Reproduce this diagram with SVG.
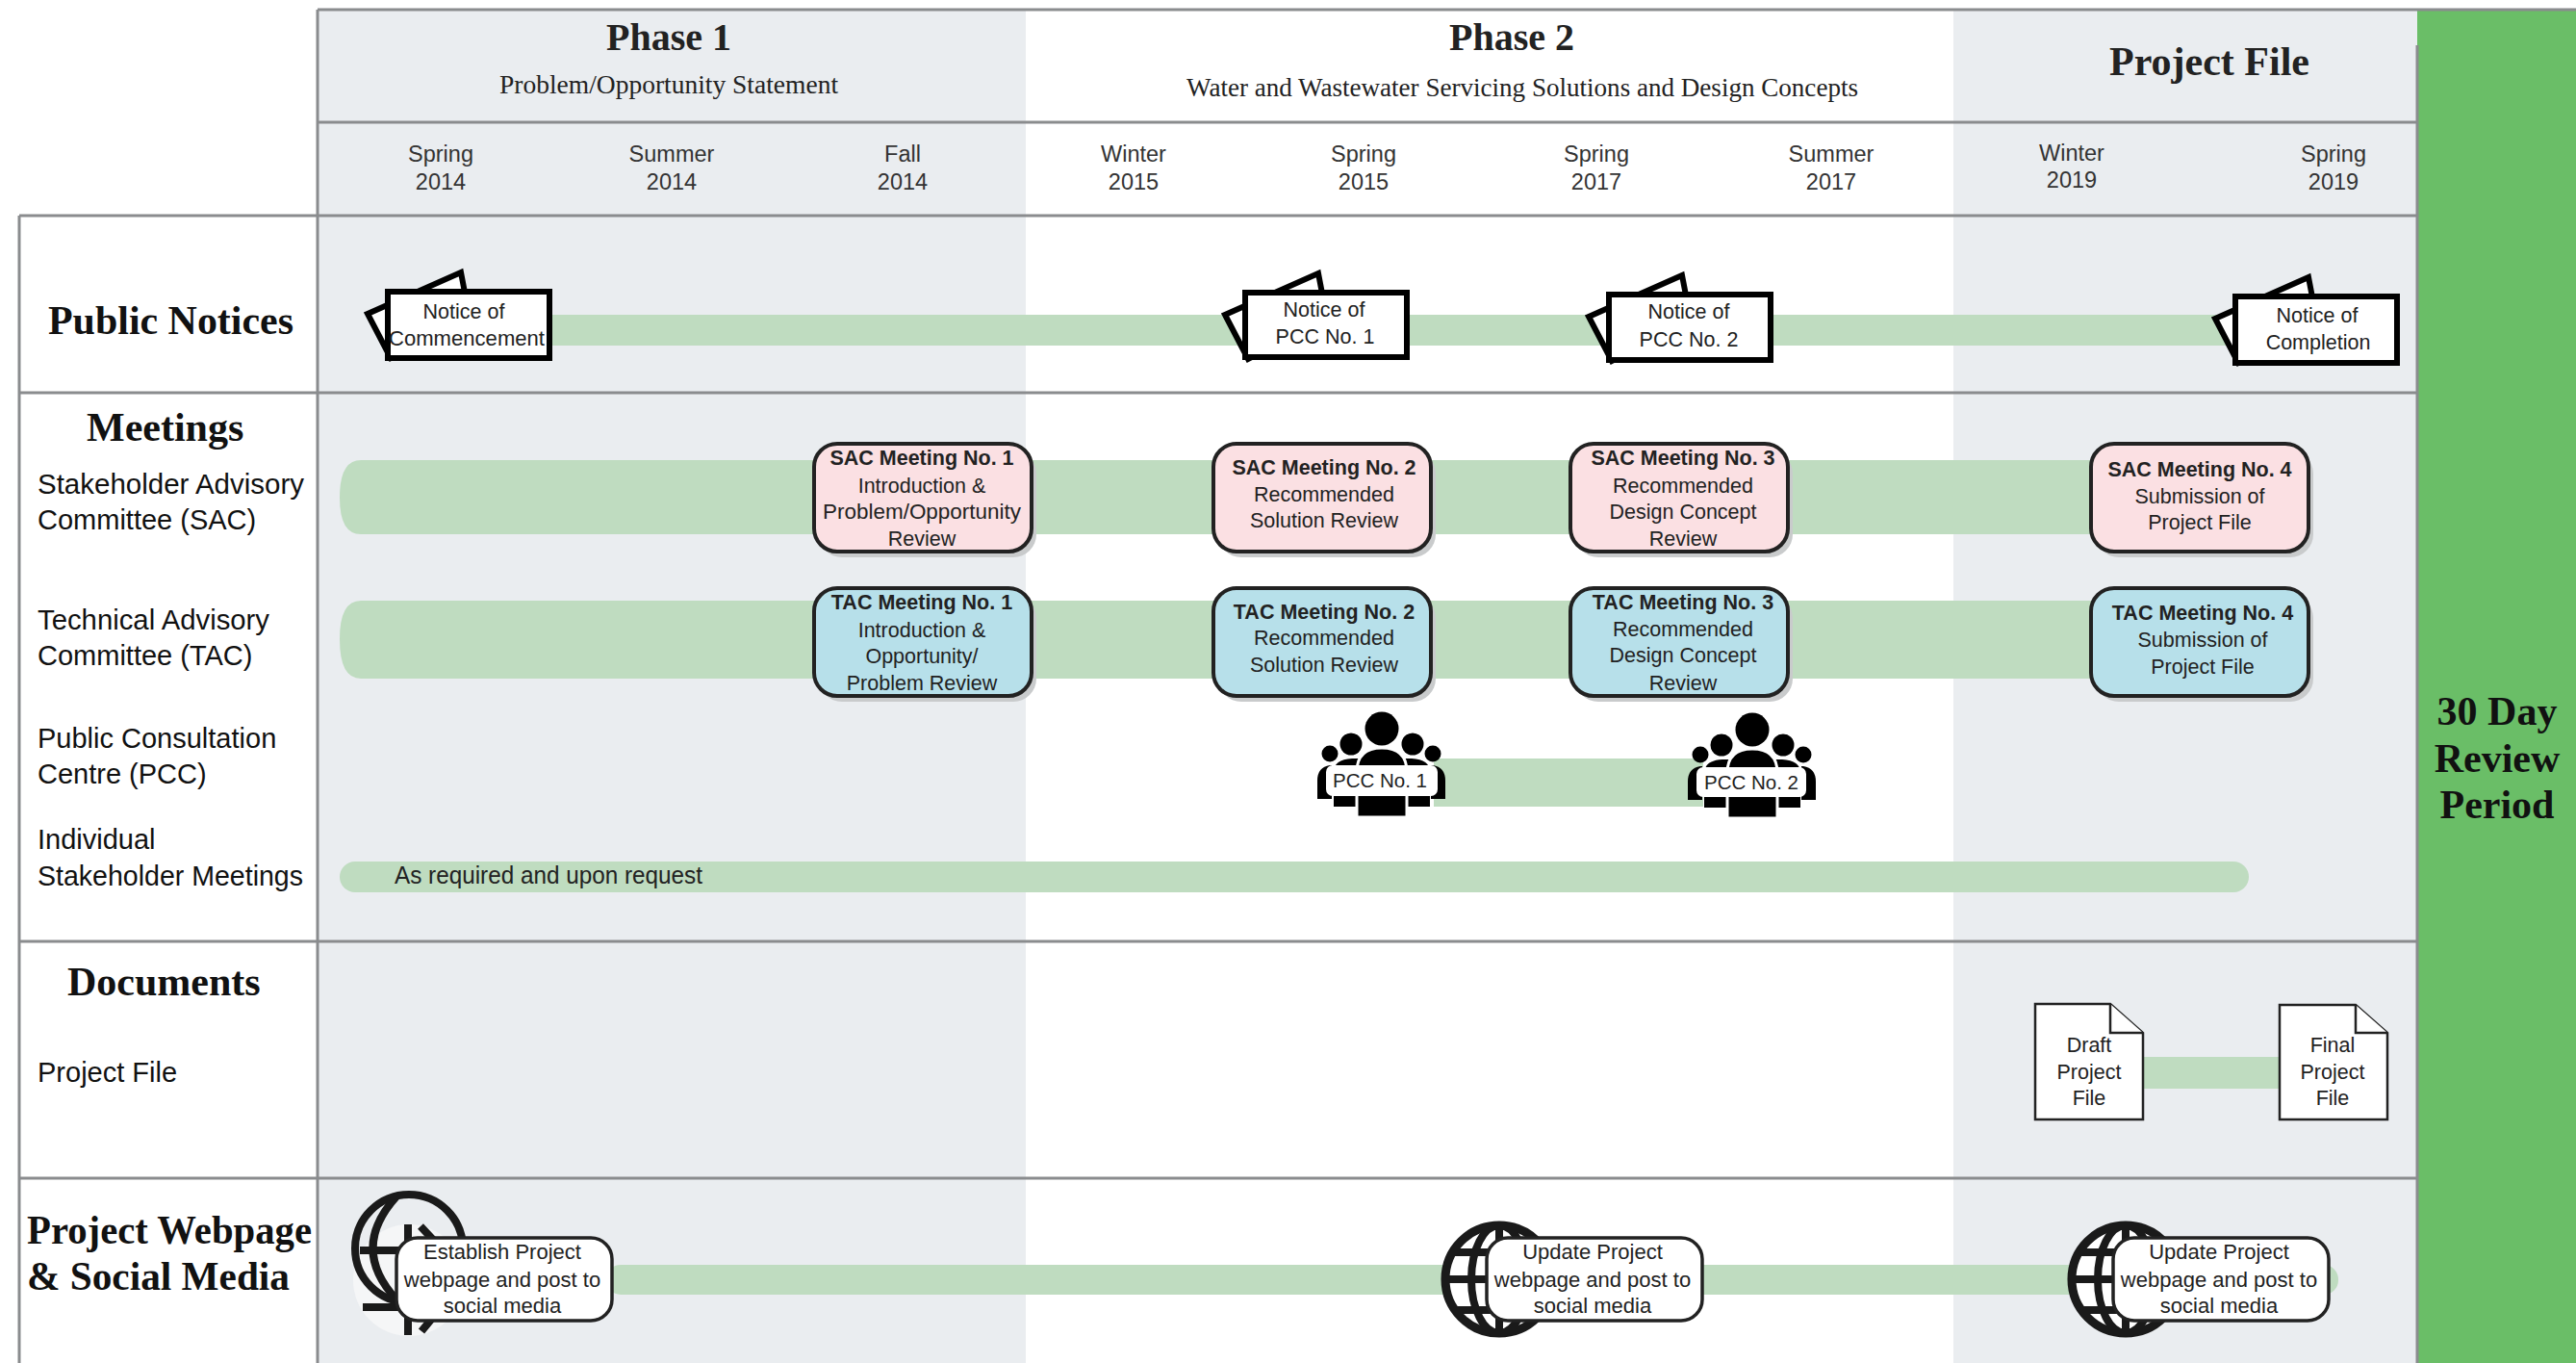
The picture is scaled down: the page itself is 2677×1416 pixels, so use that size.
<svg xmlns="http://www.w3.org/2000/svg" xmlns:xlink="http://www.w3.org/1999/xlink" width="2677" height="1416" viewBox="0 0 2677 1416">
<style>
text{font-family:"Liberation Sans",Arial,sans-serif;fill:#222}
.h{font-family:"Liberation Serif","Times New Roman",serif;font-weight:700;font-size:42px;fill:#111}
.ph{font-family:"Liberation Serif","Times New Roman",serif;font-weight:700;font-size:40px;text-anchor:middle}
.pf{font-size:42px}
.sub{font-family:"Liberation Serif","Times New Roman",serif;font-size:27.5px;text-anchor:middle}
.s{font-size:23.5px;text-anchor:middle;fill:#333}
.r{font-size:29px;fill:#111}
.m{font-size:21.5px;text-anchor:middle}
.w{font-size:22px;text-anchor:middle}
.b{font-weight:700}
.c{text-anchor:middle}
.grid{stroke:#8a8c8e;stroke-width:3;fill:none}
.band{fill:#bfdcc0}
.shadow{fill:#c9cbcc}
.sac{fill:#fbe0e3;stroke:#222;stroke-width:4}
.tac{fill:#b7e0ea;stroke:#222;stroke-width:4}
.note{fill:#fff;stroke:#000;stroke-width:6}
.back{fill:#fff;stroke:#000;stroke-width:6;stroke-linejoin:miter}
.doc{fill:#fff;stroke:#222;stroke-width:2.5}
.web{fill:#fff;stroke:#222;stroke-width:3.5}
.gl{fill:none;stroke:#1a1a1a;stroke-width:8}
</style>
<defs>
<polygon id="backsheet" class="back" points="-18,26 79,-17 88,30 6,72"/>
<g id="people">
<circle cx="1436" cy="757" r="17.5"/>
<circle cx="1404" cy="773" r="11.5"/><circle cx="1468" cy="773" r="11.5"/>
<circle cx="1382" cy="783" r="8.5"/><circle cx="1489" cy="783" r="8.5"/>
<path d="M1369 830V811Q1369 797 1382 795H1384V830ZM1502 830V811Q1502 797 1489 795H1487V830Z"/>
<path d="M1386 838V802Q1386 789 1405 788H1412V838ZM1486 838V802Q1486 789 1467 788H1460V838Z"/>
<path d="M1410 849V802Q1410 777 1436 777Q1462 777 1462 802V849Z" stroke="#fff" stroke-width="3"/>
</g>
<g id="globe">
<circle r="56" fill="#fff" stroke="#1a1a1a" stroke-width="9"/>
<ellipse rx="29" ry="56" class="gl"/>
<path class="gl" d="M0-56V56M-56 0H56M-48-28H48M-48 32H48"/>
</g>
</defs>
<rect width="2677" height="1416" fill="#fff"/>
<g id="backgrounds">
<rect x="330" y="10" width="736" height="1406" fill="#eaedf0"/>
<rect x="2030" y="10" width="482" height="1406" fill="#eaedf0"/>
<rect x="2512" y="11" width="165" height="1405" fill="#6abe67"/>
</g>
<g id="grid">
<path class="grid" d="M330 10H2677"/>
<path class="grid" d="M330 127H2512M20 224H2512M20 408H2512M20 978H2512M20 1224H2512M330 10V1416M20 224V1416M2512 47V1416"/>
</g>
<g id="connectors">
<rect class="band" x="570" y="327" width="1770" height="32"/>
<path class="band" d="M850 478H375Q353 478 353 517Q353 555 375 555H850ZM850 624H375Q353 624 353 664Q353 705 375 705H850Z"/>
<rect class="band" x="1060" y="478" width="1120" height="77"/>
<rect class="band" x="1060" y="624" width="1120" height="81"/>
<rect class="band" x="1490" y="788" width="280" height="50"/>
<rect class="band" x="353" y="895" width="1984" height="32" rx="16"/>
<rect class="band" x="2220" y="1098" width="155" height="33"/>
<rect class="band" x="630" y="1314" width="1800" height="31" rx="15"/>
</g>
<g id="header">
<text class="ph" x="695" y="52">Phase 1</text>
<text class="sub" x="695" y="97">Problem/Opportunity Statement</text>
<text class="ph" x="1571" y="52">Phase 2</text>
<text class="sub" x="1582" y="100" textLength="698" lengthAdjust="spacingAndGlyphs">Water and Wastewater Servicing Solutions and Design Concepts</text>
<text class="ph pf" x="2296" y="78">Project File</text>
<text class="s" x="458" y="168">Spring</text><text class="s" x="458" y="197">2014</text>
<text class="s" x="698" y="168">Summer</text><text class="s" x="698" y="197">2014</text>
<text class="s" x="938" y="168">Fall</text><text class="s" x="938" y="197">2014</text>
<text class="s" x="1178" y="168">Winter</text><text class="s" x="1178" y="197">2015</text>
<text class="s" x="1417" y="168">Spring</text><text class="s" x="1417" y="197">2015</text>
<text class="s" x="1659" y="168">Spring</text><text class="s" x="1659" y="197">2017</text>
<text class="s" x="1903" y="168">Summer</text><text class="s" x="1903" y="197">2017</text>
<text class="s" x="2153" y="167">Winter</text><text class="s" x="2153" y="195">2019</text>
<text class="s" x="2425" y="168">Spring</text><text class="s" x="2425" y="197">2019</text>
</g>
<g id="row-labels">
<text class="h" x="50" y="347" textLength="255" lengthAdjust="spacingAndGlyphs">Public Notices</text>
<text class="h" x="90" y="458">Meetings</text>
<text class="r" x="39" y="513" textLength="277" lengthAdjust="spacingAndGlyphs">Stakeholder Advisory</text>
<text class="r" x="39" y="550">Committee (SAC)</text>
<text class="r" x="39" y="654" textLength="241" lengthAdjust="spacingAndGlyphs">Technical Advisory</text>
<text class="r" x="39" y="691">Committee (TAC)</text>
<text class="r" x="39" y="777">Public Consultation</text>
<text class="r" x="39" y="814">Centre (PCC)</text>
<text class="r" x="39" y="882">Individual</text>
<text class="r" x="39" y="920" textLength="276" lengthAdjust="spacingAndGlyphs">Stakeholder Meetings</text>
<text class="h" x="70" y="1034">Documents</text>
<text class="r" x="39" y="1124">Project File</text>
<text class="h" x="28" y="1292" textLength="296" lengthAdjust="spacingAndGlyphs">Project Webpage</text>
<text class="h" x="28" y="1340" textLength="273" lengthAdjust="spacingAndGlyphs">&amp; Social Media</text>
</g>
<g id="review-period">
<text class="h c" x="2595" y="753">30 Day</text>
<text class="h c" x="2595" y="802">Review</text>
<text class="h c" x="2595" y="850">Period</text>
</g>
<g id="notice-commencement">
<use xlink:href="#backsheet" href="#backsheet" x="400" y="300"/>
<rect class="note" x="403" y="303" width="168" height="69"/>
<text class="m" x="482" y="331">Notice of</text><text class="m" x="485" y="359" textLength="162" lengthAdjust="spacingAndGlyphs">Commencement</text>
</g>
<g id="notice-pcc1">
<use xlink:href="#backsheet" href="#backsheet" x="1291" y="301"/>
<rect class="note" x="1294" y="304" width="168" height="67"/>
<text class="m" x="1376" y="329">Notice of</text><text class="m" x="1377" y="357">PCC No. 1</text>
</g>
<g id="notice-pcc2">
<use xlink:href="#backsheet" href="#backsheet" x="1669" y="303"/>
<rect class="note" x="1672" y="306" width="168" height="68"/>
<text class="m" x="1755" y="331">Notice of</text><text class="m" x="1755" y="360">PCC No. 2</text>
</g>
<g id="notice-completion">
<use xlink:href="#backsheet" href="#backsheet" x="2320" y="305"/>
<rect class="note" x="2323" y="308" width="168" height="69"/>
<text class="m" x="2408" y="335">Notice of</text><text class="m" x="2409" y="363">Completion</text>
</g>
<g id="sac1"><rect class="shadow" x="851" y="468" width="226" height="111" rx="24"/><rect class="sac" x="846" y="461" width="226" height="112" rx="24"/>
<text class="m b" x="958" y="483">SAC Meeting No. 1</text><text class="m" x="958" y="512">Introduction &amp;</text><text class="m" x="958" y="539" textLength="206" lengthAdjust="spacingAndGlyphs">Problem/Opportunity</text><text class="m" x="958" y="567">Review</text></g>
<g id="sac2"><rect class="shadow" x="1266" y="468" width="226" height="111" rx="24"/><rect class="sac" x="1261" y="461" width="226" height="112" rx="24"/>
<text class="m b" x="1376" y="493">SAC Meeting No. 2</text><text class="m" x="1376" y="521">Recommended</text><text class="m" x="1376" y="548">Solution Review</text></g>
<g id="sac3"><rect class="shadow" x="1637" y="468" width="226" height="111" rx="24"/><rect class="sac" x="1632" y="461" width="226" height="112" rx="24"/>
<text class="m b" x="1749" y="483">SAC Meeting No. 3</text><text class="m" x="1749" y="512">Recommended</text><text class="m" x="1749" y="539">Design Concept</text><text class="m" x="1749" y="567">Review</text></g>
<g id="sac4"><rect class="shadow" x="2178" y="468" width="226" height="111" rx="24"/><rect class="sac" x="2173" y="461" width="226" height="112" rx="24"/>
<text class="m b" x="2286" y="495">SAC Meeting No. 4</text><text class="m" x="2286" y="523">Submission of</text><text class="m" x="2286" y="550">Project File</text></g>
<g id="tac1"><rect class="shadow" x="851" y="618" width="226" height="111" rx="24"/><rect class="tac" x="846" y="611" width="226" height="112" rx="24"/>
<text class="m b" x="958" y="633">TAC Meeting No. 1</text><text class="m" x="958" y="662">Introduction &amp;</text><text class="m" x="958" y="689">Opportunity/</text><text class="m" x="958" y="717">Problem Review</text></g>
<g id="tac2"><rect class="shadow" x="1266" y="618" width="226" height="111" rx="24"/><rect class="tac" x="1261" y="611" width="226" height="112" rx="24"/>
<text class="m b" x="1376" y="643">TAC Meeting No. 2</text><text class="m" x="1376" y="670">Recommended</text><text class="m" x="1376" y="698">Solution Review</text></g>
<g id="tac3"><rect class="shadow" x="1637" y="618" width="226" height="111" rx="24"/><rect class="tac" x="1632" y="611" width="226" height="112" rx="24"/>
<text class="m b" x="1749" y="633">TAC Meeting No. 3</text><text class="m" x="1749" y="661">Recommended</text><text class="m" x="1749" y="688">Design Concept</text><text class="m" x="1749" y="717">Review</text></g>
<g id="tac4"><rect class="shadow" x="2178" y="618" width="226" height="111" rx="24"/><rect class="tac" x="2173" y="611" width="226" height="112" rx="24"/>
<text class="m b" x="2289" y="644">TAC Meeting No. 4</text><text class="m" x="2289" y="672">Submission of</text><text class="m" x="2289" y="700">Project File</text></g>
<g id="pcc1"><use xlink:href="#people" href="#people"/><rect x="1378" y="795" width="116" height="32" rx="7" fill="#fff"/>
<text class="c" style="font-size:20.5px" x="1434" y="818">PCC No. 1</text></g>
<g id="pcc2"><use xlink:href="#people" href="#people" x="385" y="1"/><rect x="1763" y="797" width="114" height="31" rx="7" fill="#fff"/>
<text class="c" style="font-size:20.5px" x="1820" y="820">PCC No. 2</text></g>
<text id="as-required" style="font-size:25px" x="410" y="918" textLength="320" lengthAdjust="spacingAndGlyphs">As required and upon request</text>
<g id="doc-draft"><path class="doc" d="M2115 1043H2193L2227 1073V1163H2115Z"/><path class="doc" d="M2193 1043V1073H2227"/>
<text class="m" x="2171" y="1093">Draft</text><text class="m" x="2171" y="1121">Project</text><text class="m" x="2171" y="1148">File</text></g>
<g id="doc-final"><path class="doc" d="M2369 1044H2448L2481 1073V1163H2369Z"/><path class="doc" d="M2448 1044V1073H2481"/>
<text class="m" x="2424" y="1093">Final</text><text class="m" x="2424" y="1121">Project</text><text class="m" x="2424" y="1148">File</text></g>
<g id="web1">
<circle cx="425" cy="1330" r="58" fill="#f5f6f7"/>
<circle cx="425" cy="1297" r="56" fill="none" stroke="#1a1a1a" stroke-width="8"/>
<path class="gl" d="M412 1243Q363 1297 412 1350M374 1299H420M377 1358H420M424 1272V1387M437 1274L452 1290M438 1383L452 1366"/>
<rect class="web" x="412" y="1286" width="224" height="86" rx="22"/>
<text class="w" x="522" y="1308">Establish Project</text><text class="w" x="522" y="1337">webpage and post to</text><text class="w" x="522" y="1364">social media</text>
</g>
<g id="web2">
<use xlink:href="#globe" href="#globe" x="1558" y="1329"/>
<rect class="web" x="1545" y="1286" width="224" height="86" rx="22"/>
<text class="w" x="1655" y="1308">Update Project</text><text class="w" x="1655" y="1337">webpage and post to</text><text class="w" x="1655" y="1364">social media</text>
</g>
<g id="web3">
<use xlink:href="#globe" href="#globe" x="2209" y="1329"/>
<rect class="web" x="2196" y="1286" width="224" height="86" rx="22"/>
<text class="w" x="2306" y="1308">Update Project</text><text class="w" x="2306" y="1337">webpage and post to</text><text class="w" x="2306" y="1364">social media</text>
</g>
</svg>
